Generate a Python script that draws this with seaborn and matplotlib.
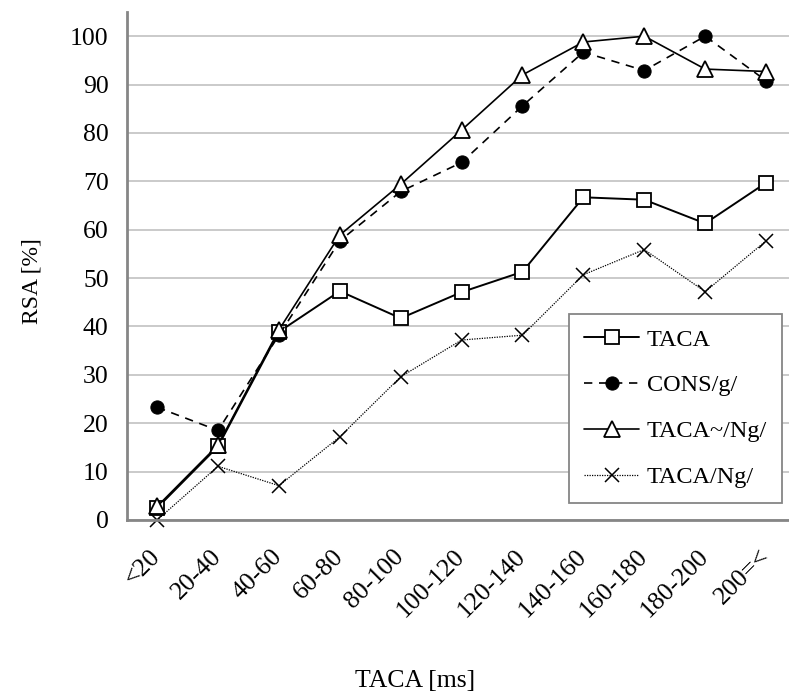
import seaborn as sns
import matplotlib.pyplot as plt
import pandas as pd

# data
categories = ['<20', '20-40', '40-60', '60-80', '80-100', '100-120',
              '120-140', '140-160', '160-180', '180-200', '200=<']
taca = [2.5, 15.2, 38.9, 47.3, 41.7, 47.1, 51.3, 66.7, 66.2, 61.3, 69.7]
cons_g = [23.3, 18.5, 38.2, 57.7, 67.9, 73.9, 85.6, 96.7, 92.9, 100.0, 90.8]
taca_tilde_ng = [2.8, 15.5, 39.3, 58.9, 69.4, 80.6, 92.0, 98.8, 100.0, 93.2, 92.7]
taca_ng = [0.0, 11.1, 7.1, 17.2, 29.6, 37.2, 38.2, 50.7, 55.9, 47.2, 57.7]
y_ticks = list(range(0, 101, 10))

series_names = ['TACA', 'CONS/g/', 'TACA~/Ng/', 'TACA/Ng/']
series_values = [taca, cons_g, taca_tilde_ng, taca_ng]


def set_style():
    sns.set_style('white')
    plt.rcParams['font.family'] = ['Liberation Serif', 'DejaVu Serif']
    plt.rcParams['font.size'] = 18.5
    plt.rcParams['text.color'] = 'black'
    plt.rcParams['axes.labelcolor'] = 'black'
    plt.rcParams['xtick.labelcolor'] = 'black'
    plt.rcParams['ytick.labelcolor'] = 'black'


set_style()

df = pd.DataFrame({'range': categories})
for name, vals in zip(series_names, series_values):
    df[name] = vals

styles = {
    'TACA': dict(linestyle='-', linewidth=1.4, marker='s', markersize=10,
                 markerfacecolor='white', markeredgecolor='black', markeredgewidth=1.3),
    'CONS/g/': dict(linestyle=(0, (5, 4)), linewidth=1.2, marker='o', markersize=9.5,
                    markerfacecolor='black', markeredgecolor='black'),
    'TACA~/Ng/': dict(linestyle='-', linewidth=1.2, marker='^', markersize=12,
                      markerfacecolor='white', markeredgecolor='black', markeredgewidth=1.3),
    'TACA/Ng/': dict(linestyle=(0, (1, 1)), linewidth=0.9, marker='x', markersize=10,
                     markeredgewidth=1.1, markeredgecolor='black'),
}

fig = plt.figure(figsize=(7.89, 6.96), dpi=100)
ax = fig.add_axes([126.7 / 789, 176 / 696, 669.8 / 789, 508 / 696])

for name in series_names:
    sns.lineplot(data=df, x='range', y=name, ax=ax, color='black', sort=False,
                 label=name, clip_on=False, **styles[name])

ax.set_xlim(-0.5, 10.5)
ax.set_ylim(0, 105)
ax.set_yticks(y_ticks)
ax.yaxis.grid(True, color='#c6c6c6', linewidth=1.3)
ax.set_axisbelow(True)

for side in ['top', 'right']:
    ax.spines[side].set_visible(False)
for side in ['left', 'bottom']:
    ax.spines[side].set_color('#868686')
    ax.spines[side].set_linewidth(2)

ax.set_xticks([i + 0.5 for i in range(-1, 11)], minor=True)
ax.set_xticks(range(len(categories)))
ax.set_xticklabels(categories, rotation=45, ha='right', va='center',
                   rotation_mode='anchor')
ax.tick_params(axis='x', which='major', length=0, pad=24)
ax.tick_params(axis='x', which='minor', direction='in', length=7,
               color='#868686', width=1.2)
ax.tick_params(axis='y', direction='in', length=7, color='#868686', width=1.2, pad=13)

ax.set_xlabel('TACA [ms]')
ax.set_ylabel('RSA [%]', fontsize=17)
ax.xaxis.set_label_coords(0.43, -0.295)
ax.yaxis.set_label_coords(-0.125, 0.47)

leg = ax.legend(loc='upper left', bbox_to_anchor=(569 / 789, 1 - 314 / 696),
                bbox_transform=fig.transFigure, frameon=True, fancybox=False,
                borderaxespad=0, handlelength=2.3, labelspacing=0.98, borderpad=0.6,
                handletextpad=0.3, fontsize=17.5)
leg.get_frame().set_edgecolor('#868686')
leg.get_frame().set_linewidth(1.3)
leg.get_frame().set_alpha(1)

fig.savefig('out.png', dpi=100)
